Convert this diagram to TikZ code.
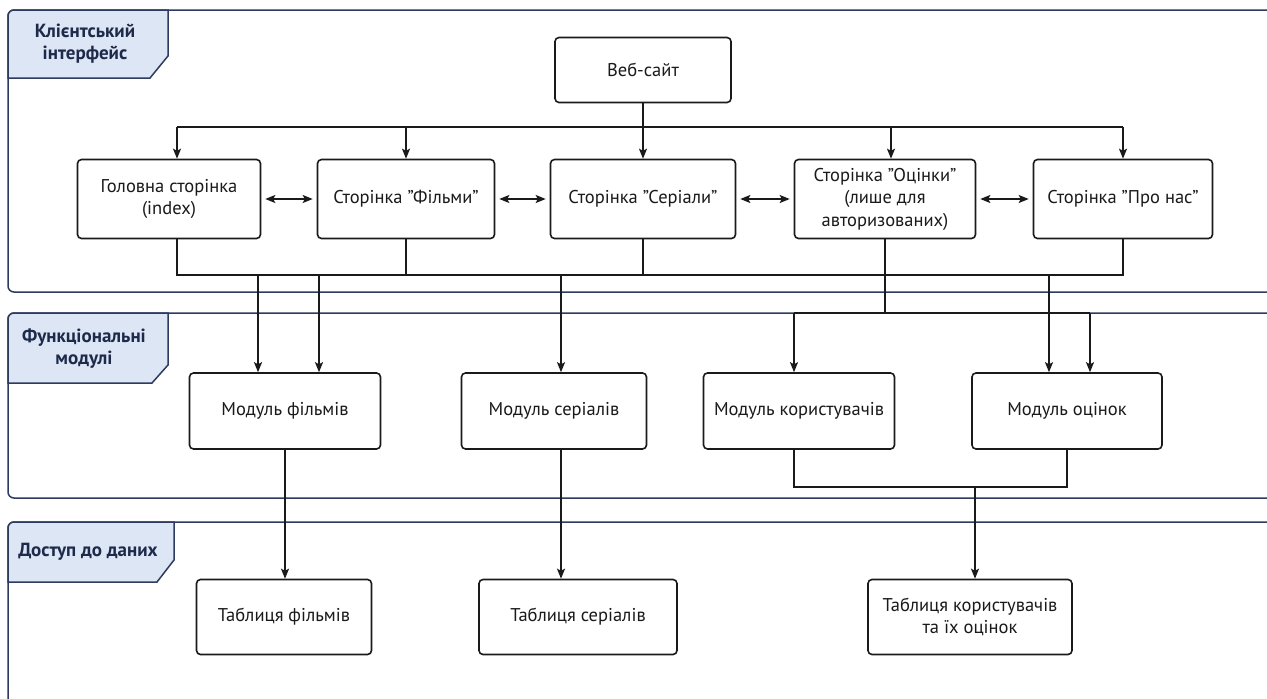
\documentclass[tikz,border=0pt]{standalone}
\usepackage{fontspec}
\setmainfont{PT Sans}
\usetikzlibrary{arrows.meta}
\definecolor{lanecol}{HTML}{2E3B5E}
\definecolor{tabfill}{HTML}{DCE6F5}
\definecolor{tabtext}{HTML}{1E2A4A}
\definecolor{ink}{HTML}{1A1A1A}
\begin{document}
\begin{tikzpicture}[x=1pt,y=-1pt,
  lane/.style={draw=lanecol, line width=1.5pt, rounded corners=6pt, fill=white},
  tab/.style={draw=lanecol, line width=1.5pt, fill=tabfill},
  tablabel/.style={text=tabtext, font=\fontsize{19}{22}\selectfont\bfseries, align=center, inner sep=0pt},
  box/.style={draw=ink, line width=1.6pt, rounded corners=4pt, fill=white, align=center,
    text=ink, font=\fontsize{18.5}{22.5}\selectfont, inner sep=0pt},
  conn/.style={draw=ink, line width=1.6pt},
  tip/.tip={Stealth[length=10pt,width=8pt,inset=2pt]},
  arr/.style={conn, -tip},
  dbl/.style={conn, tip-tip, shorten <=4pt, shorten >=4pt}]
\useasboundingbox (0,0) rectangle (1267,699);
\fill[white] (0,0) rectangle (1267,699);

% swimlanes
\draw[lane] (8,10) rectangle (1300,292);
\draw[lane] (8,313) rectangle (1300,498);
\draw[lane] (8,522) rectangle (1300,730);

% lane tabs
\draw[tab] (8,78) -- (8,16) arc[start angle=180,end angle=270,radius=6] -- (168,10) -- (168,56) -- (150,78) -- cycle;
\draw[tab] (8,383) -- (8,319) arc[start angle=180,end angle=270,radius=6] -- (168,313) -- (168,365) -- (152,383) -- cycle;
\draw[tab] (8,582) -- (8,528) arc[start angle=180,end angle=270,radius=6] -- (174,522) -- (174,560) -- (157,582) -- cycle;
\node[tablabel] (lbl1) at (85,44) {Клієнтський\\інтерфейс};
\node[tablabel] (lbl2) at (84,349) {Функціональні\\модулі};
\node[tablabel] (lbl3) at (88,552) {Доступ до даних};

% client pages
\node[box, minimum width=176pt, minimum height=65pt] (web) at (643,70) {Веб-сайт};
\node[box, minimum width=183pt, minimum height=79pt] (home) at (169,199) {Головна сторінка\\(index)};
\node[box, minimum width=177pt, minimum height=79pt] (films) at (406,199) {Сторінка "Фільми"};
\node[box, minimum width=185pt, minimum height=79pt] (series) at (643,199) {Сторінка "Серіали"};
\node[box, minimum width=181pt, minimum height=79pt] (ratings) at (885,199) {Сторінка "Оцінки"\\(лише для\\авторизованих)};
\node[box, minimum width=179pt, minimum height=79pt] (about) at (1123,199) {Сторінка "Про нас"};

% functional modules
\node[box, minimum width=191pt, minimum height=76pt] (mfilm) at (285,411) {Модуль фільмів};
\node[box, minimum width=185pt, minimum height=76pt] (mseries) at (554,411) {Модуль серіалів};
\node[box, minimum width=191pt, minimum height=76pt] (musers) at (799,411) {Модуль користувачів};
\node[box, minimum width=190pt, minimum height=76pt] (mratings) at (1067,411) {Модуль оцінок};

% data tables
\node[box, minimum width=175pt, minimum height=75pt] (tfilm) at (284,617) {Таблиця фільмів};
\node[box, minimum width=198pt, minimum height=75pt] (tseries) at (578,617) {Таблиця серіалів};
\node[box, minimum width=204pt, minimum height=75pt] (tusers) at (970,617) {Таблиця користувачів\\та їх оцінок};

% bus junction points
\coordinate (tbL) at (177,127);
\coordinate (tbR) at (1123,127);
\coordinate (tbO) at (891,127);
\coordinate (bbL) at (177,275);
\coordinate (bbR) at (1123,275);
\coordinate (fa) at (258,275);
\coordinate (fb) at (319,275);
\coordinate (sa) at (561,275);
\coordinate (ra) at (1049,275);
\coordinate (uL) at (794,313);
\coordinate (uR) at (1090,313);
\coordinate (jn) at (975,487);

% website to pages
\draw[conn] (web.south) -- (web.south |- tbL);
\draw[conn] (tbL) -- (tbR);
\draw[arr] (tbL) -- (tbL |- home.north);
\draw[arr] (films.north |- tbL) -- (films.north);
\draw[arr] (series.north |- tbL) -- (series.north);
\draw[arr] (tbO) -- (tbO |- ratings.north);
\draw[arr] (tbR) -- (tbR |- about.north);

% navigation between pages
\draw[dbl] (home.east) -- (films.west);
\draw[dbl] (films.east) -- (series.west);
\draw[dbl] (series.east) -- (ratings.west);
\draw[dbl] (ratings.east) -- (about.west);

% pages to modules
\draw[conn] (home.south -| bbL) -- (bbL) -- (bbR) -- (about.south -| bbR);
\draw[conn] (films.south) -- (films.south |- bbL);
\draw[conn] (series.south) -- (series.south |- bbL);
\draw[arr] (fa) -- (fa |- mfilm.north);
\draw[arr] (fb) -- (fb |- mfilm.north);
\draw[arr] (sa) -- (sa |- mseries.north);
\draw[arr] (ra) -- (ra |- mratings.north);
\draw[conn] (ratings.south) -- (ratings.south |- uL);
\draw[conn] (uL) -- (uR);
\draw[arr] (uL) -- (uL |- musers.north);
\draw[arr] (uR) -- (uR |- mratings.north);

% modules to tables
\draw[arr] (mfilm.south) -- (mfilm.south |- tfilm.north);
\draw[arr] (mseries.south -| sa) -- (tseries.north -| sa);
\draw[conn] (musers.south -| uL) -- (uL |- jn) -- (mratings.south |- jn) -- (mratings.south);
\draw[arr] (jn) -- (jn |- tusers.north);
\end{tikzpicture}
\end{document}
